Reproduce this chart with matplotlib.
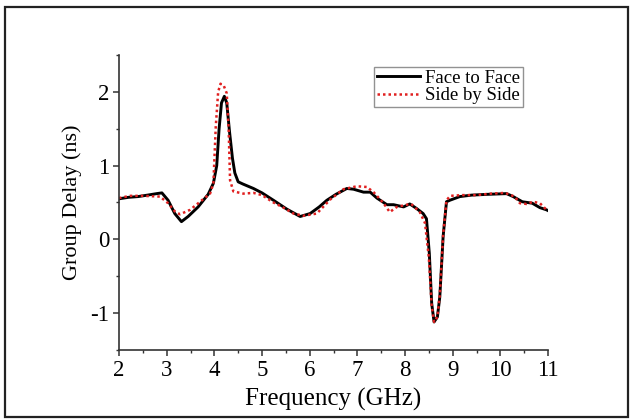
import matplotlib
matplotlib.use("Agg")
import matplotlib.pyplot as plt
from matplotlib.patches import Rectangle
from matplotlib.ticker import MultipleLocator

# Group delay, face-to-face antenna orientation
freq_ff = [2.0, 2.2, 2.4, 2.6, 2.79, 2.9, 3.03, 3.17, 3.31, 3.45, 3.66, 3.87,
           3.98, 4.05, 4.1, 4.15, 4.21, 4.26, 4.32, 4.38, 4.43, 4.5, 4.6, 4.82,
           5.0, 5.24, 5.52, 5.8, 6.01, 6.2, 6.36, 6.55, 6.78, 6.92, 7.13, 7.27,
           7.41, 7.62, 7.76, 7.97, 8.1, 8.24, 8.38, 8.45, 8.51, 8.56, 8.61, 8.68,
           8.73, 8.8, 8.87, 8.94, 9.15, 9.4, 9.71, 10.13, 10.27, 10.46, 10.67,
           10.83, 10.97, 11.0]
delay_ff = [0.55, 0.57, 0.58, 0.60, 0.62, 0.63, 0.53, 0.35, 0.24, 0.31, 0.44,
            0.61, 0.76, 1.0, 1.5, 1.85, 1.94, 1.85, 1.45, 1.1, 0.90, 0.78, 0.75,
            0.69, 0.63, 0.53, 0.41, 0.31, 0.35, 0.44, 0.53, 0.61, 0.69, 0.68,
            0.64, 0.64, 0.56, 0.47, 0.47, 0.44, 0.48, 0.42, 0.35, 0.28, -0.19,
            -0.87, -1.12, -1.05, -0.78, 0.04, 0.51, 0.53, 0.58, 0.60, 0.61, 0.62,
            0.58, 0.51, 0.49, 0.43, 0.40, 0.39]

# Group delay, side-by-side antenna orientation
freq_sbs = [2.0, 2.23, 2.5, 2.86, 3.03, 3.17, 3.28, 3.49, 3.7, 3.91, 3.98, 4.03,
            4.08, 4.13, 4.2, 4.26, 4.3, 4.33, 4.4, 4.61, 4.82, 5.0, 5.24, 5.45,
            5.66, 5.87, 6.15, 6.43, 6.71, 6.99, 7.2, 7.34, 7.55, 7.68, 7.83, 8.04,
            8.13, 8.31, 8.42, 8.5, 8.56, 8.61, 8.68, 8.73, 8.8, 8.87, 8.95, 9.2,
            9.5, 9.8, 10.1, 10.3, 10.41, 10.55, 10.69, 10.83, 10.97, 11.0]
delay_sbs = [0.56, 0.59, 0.59, 0.58, 0.49, 0.38, 0.34, 0.40, 0.51, 0.62, 0.76,
             1.53, 2.0, 2.11, 2.08, 1.98, 1.5, 0.8, 0.65, 0.62, 0.63, 0.60, 0.50,
             0.43, 0.35, 0.32, 0.35, 0.54, 0.68, 0.72, 0.71, 0.64, 0.49, 0.37,
             0.44, 0.47, 0.48, 0.37, 0.22, -0.25, -0.9, -1.12, -1.05, -0.75, 0.06,
             0.53, 0.59, 0.60, 0.60, 0.62, 0.63, 0.58, 0.49, 0.48, 0.51, 0.49,
             0.40, 0.39]

plt.rcParams["font.family"] = ["Liberation Serif", "DejaVu Serif"]
plt.rcParams["axes.unicode_minus"] = False

fig = plt.figure(figsize=(6.32, 4.20), dpi=100)
ax = fig.add_axes([0.1883, 0.1667, 0.6788, 0.7024])

ax.plot(freq_ff, delay_ff, color="black", lw=2.1, label="Face to Face",
        solid_joinstyle="round")
ax.plot(freq_sbs, delay_sbs, color="#e02020", lw=1.8, linestyle=(0, (1, 1.2)),
        label="Side by Side")

ax.set_xlim(2, 11)
ax.set_ylim(-1.5, 2.5)
ax.xaxis.set_major_locator(MultipleLocator(1))
ax.xaxis.set_minor_locator(MultipleLocator(0.5))
ax.yaxis.set_major_locator(MultipleLocator(1))
ax.yaxis.set_minor_locator(MultipleLocator(0.5))

for side in ("top", "right"):
    ax.spines[side].set_visible(False)
for side in ("left", "bottom"):
    ax.spines[side].set_color("#333333")
    ax.spines[side].set_linewidth(1.2)

ax.tick_params(which="major", direction="out", length=4, width=1.1,
               color="#333333", labelsize=16.5, pad=3)
ax.tick_params(which="minor", direction="out", length=2.5, width=1.0,
               color="#333333")

ax.set_xlabel("Frequency (GHz)", fontsize=18, labelpad=5)
ax.set_ylabel("Group Delay (ns)", fontsize=16, labelpad=6)

leg = ax.legend(loc="upper right", bbox_to_anchor=(0.942, 0.959),
                borderaxespad=0, fontsize=13.5, handlelength=2.3,
                handletextpad=0.3, labelspacing=0.0, borderpad=0.15,
                fancybox=False, frameon=True)
leg.get_frame().set_edgecolor("#777777")
leg.get_frame().set_linewidth(1.0)

# Outer border around the whole figure
fig.patches.append(Rectangle((5 / 632, 3 / 420), 623 / 632, 410 / 420,
                             transform=fig.transFigure, fill=False,
                             edgecolor="#222222", linewidth=1.6))

fig.savefig("out.png", dpi=100)
